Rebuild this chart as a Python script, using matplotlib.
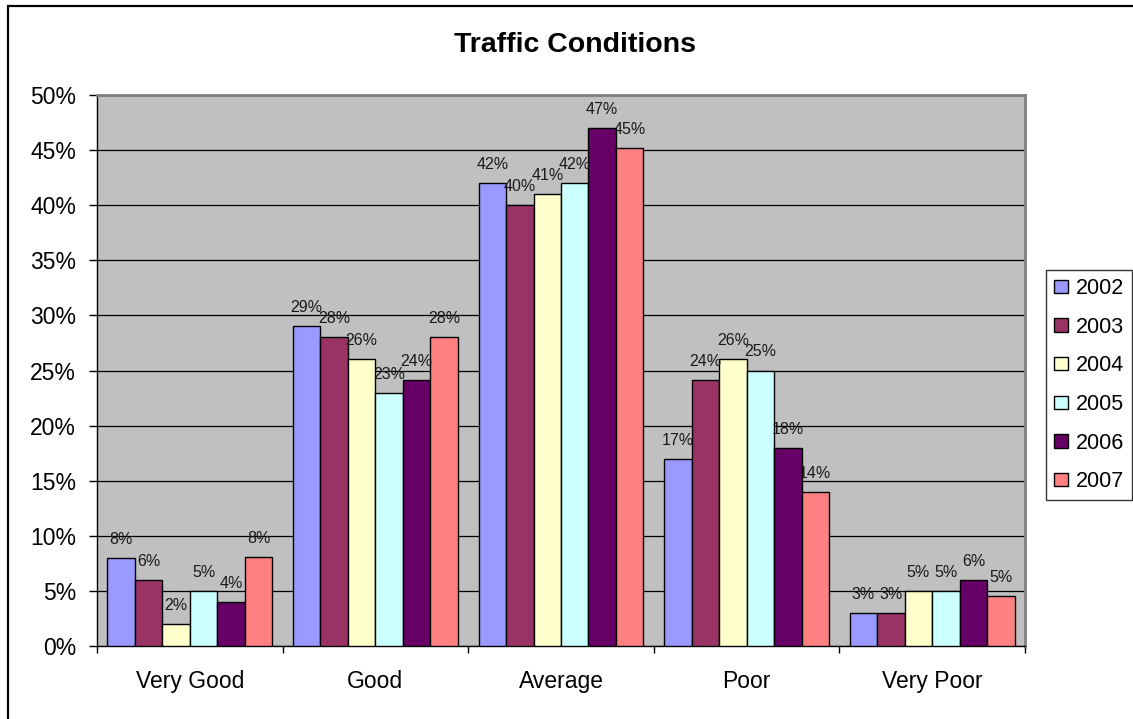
import numpy as np
import matplotlib
matplotlib.use('Agg')
import matplotlib.pyplot as plt
from matplotlib.patches import Rectangle
from matplotlib.ticker import MultipleLocator, FuncFormatter

plt.rcParams['font.family'] = ['Liberation Sans', 'DejaVu Sans']

categories = ['Very Good', 'Good', 'Average', 'Poor', 'Very Poor']
years = ['2002', '2003', '2004', '2005', '2006', '2007']
values = {
    '2002': [8, 29, 42, 17, 3],
    '2003': [6, 28, 40, 24.1, 3],
    '2004': [2, 26, 41, 26, 5],
    '2005': [5, 23, 42, 25, 5],
    '2006': [4, 24.1, 47, 18, 6],
    '2007': [8.1, 28, 45.2, 14, 4.5],
}
colors = ['#9999FF', '#993366', '#FFFFCC', '#CCFFFF', '#660066', '#FF8080']

W, H = 1133, 719
fig = plt.figure(figsize=(W / 100, H / 100), dpi=100)
ax = fig.add_axes([97 / W, (H - 646) / H, 928 / W, 551 / H])
ax.set_facecolor('#C0C0C0')

# outer chart border (only left/top edges show in the picture)
fig.patches.append(Rectangle((8 / W, -0.1), 1.2, (H - 6) / H + 0.1,
                             transform=fig.transFigure, fill=False,
                             edgecolor='black', linewidth=1.6, clip_on=False))

x = np.arange(len(categories))
w = 1 / 6.75
for i, yr in enumerate(years):
    pos = x + (i - 2.5) * w
    ax.bar(pos, values[yr], width=w, color=colors[i],
           edgecolor='black', linewidth=1.0, label=yr, zorder=3)
    for xp, v in zip(pos, values[yr]):
        ax.annotate('%d%%' % int(v + 0.5), (xp, v), xytext=(0, 14),
                    textcoords='offset pixels', ha='center', va='baseline',
                    fontsize=11.5, color='#1a1a1a', zorder=4)

ax.set_xlim(-0.5, 4.5)
ax.set_ylim(0, 50)
ax.yaxis.set_major_locator(MultipleLocator(5))
ax.yaxis.set_major_formatter(FuncFormatter(lambda v, p: '%d%%' % v))
ax.grid(axis='y', color='black', linewidth=0.9)
ax.set_axisbelow(True)

ax.set_xticks(np.arange(-0.5, 5, 1))
ax.set_xticklabels([])
ax.set_xticks(x, minor=True)
ax.set_xticklabels(categories, minor=True)
ax.tick_params(axis='x', which='major', length=5, width=1, direction='out')
ax.tick_params(axis='x', which='minor', length=0, pad=17, labelsize=16.5)
ax.tick_params(axis='y', length=6, width=1, direction='out', pad=9, labelsize=16.5)

for s in ['left', 'bottom']:
    ax.spines[s].set_color('black')
    ax.spines[s].set_linewidth(1.0)
for s in ['top', 'right']:
    ax.spines[s].set_color('#808080')
    ax.spines[s].set_linewidth(2.0)

fig.text(575 / W, 1 - 45 / H, 'Traffic Conditions', ha='center',
         va='center', fontsize=20.5, fontweight='bold')

leg = fig.legend(loc='upper left', bbox_to_anchor=(1046 / W, 1 - 270 / H),
                 fontsize=15.5, frameon=True, fancybox=False, shadow=False,
                 handlelength=0.65, handleheight=0.57, handletextpad=0.35,
                 labelspacing=0.82, borderpad=0.37, borderaxespad=0)
leg.get_frame().set_edgecolor('black')
leg.get_frame().set_linewidth(1.0)

fig.savefig('out.png', dpi=100)
